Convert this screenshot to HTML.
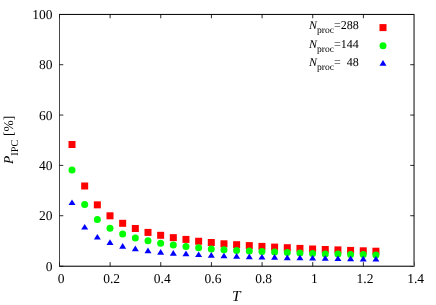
<!DOCTYPE html>
<html><head><meta charset="utf-8"><style>html,body{margin:0;padding:0;background:#fff;}svg{display:block;font-family:"Liberation Serif",serif;}</style></head><body>
<svg width="436" height="305" viewBox="0 0 436 305">
<rect width="436" height="305" fill="#fff"/>
<rect x="59" y="14" width="355.5" height="1" fill="#000" fill-opacity="0.94"/>
<rect x="59" y="13" width="355.5" height="1" fill="#000" fill-opacity="0.07"/>
<rect x="59" y="15" width="1" height="251.8" fill="#000" fill-opacity="0.72"/>
<rect x="413" y="15" width="1" height="251" fill="#000" fill-opacity="0.45"/>
<rect x="414" y="15" width="1" height="251" fill="#000" fill-opacity="0.53"/>
<rect x="60" y="265" width="353" height="1" fill="#000" fill-opacity="0.30"/>
<rect x="60" y="266" width="354.6" height="1" fill="#000" fill-opacity="0.75"/>
<rect x="59" y="262.1" width="1" height="4.9" fill="#000" fill-opacity="0.55"/>
<rect x="59" y="15" width="1" height="3.3" fill="#000" fill-opacity="0.55"/>
<rect x="60" y="266" width="3.3" height="1" fill="#000" fill-opacity="0.5"/>
<rect x="60" y="265" width="3.3" height="1" fill="#000" fill-opacity="0.2"/>
<rect x="414" y="262.1" width="1" height="3.9" fill="#000" fill-opacity="0.35"/>
<rect x="410.2" y="266" width="2.8" height="1" fill="#000" fill-opacity="0.4"/>
<path d="M110.11,266.3V262.1M110.11,14.5V18.25M160.76,266.3V262.1M160.76,14.5V18.25M211.42,266.3V262.1M211.42,14.5V18.25M262.08,266.3V262.1M262.08,14.5V18.25M312.74,266.3V262.1M312.74,14.5V18.25M363.39,266.3V262.1M363.39,14.5V18.25M59.5,215.72H63.3M414.1,215.72H410.2M59.5,165.39H63.3M414.1,165.39H410.2M59.5,115.06H63.3M414.1,115.06H410.2M59.5,64.73H63.3M414.1,64.73H410.2" fill="none" stroke="#000" stroke-width="0.84"/>
<rect x="68.51" y="141.00" width="7.0" height="7.0" fill="#f00"/>
<rect x="81.18" y="182.50" width="7.0" height="7.0" fill="#f00"/>
<rect x="93.84" y="201.35" width="7.0" height="7.0" fill="#f00"/>
<rect x="106.50" y="212.30" width="7.0" height="7.0" fill="#f00"/>
<rect x="119.16" y="219.80" width="7.0" height="7.0" fill="#f00"/>
<rect x="131.83" y="225.00" width="7.0" height="7.0" fill="#f00"/>
<rect x="144.49" y="228.90" width="7.0" height="7.0" fill="#f00"/>
<rect x="157.15" y="231.80" width="7.0" height="7.0" fill="#f00"/>
<rect x="169.81" y="234.15" width="7.0" height="7.0" fill="#f00"/>
<rect x="182.47" y="235.90" width="7.0" height="7.0" fill="#f00"/>
<rect x="195.14" y="237.75" width="7.0" height="7.0" fill="#f00"/>
<rect x="207.80" y="239.00" width="7.0" height="7.0" fill="#f00"/>
<rect x="220.46" y="240.30" width="7.0" height="7.0" fill="#f00"/>
<rect x="233.12" y="241.20" width="7.0" height="7.0" fill="#f00"/>
<rect x="245.79" y="242.10" width="7.0" height="7.0" fill="#f00"/>
<rect x="258.45" y="242.90" width="7.0" height="7.0" fill="#f00"/>
<rect x="271.11" y="243.60" width="7.0" height="7.0" fill="#f00"/>
<rect x="283.78" y="244.20" width="7.0" height="7.0" fill="#f00"/>
<rect x="296.44" y="244.90" width="7.0" height="7.0" fill="#f00"/>
<rect x="309.10" y="245.50" width="7.0" height="7.0" fill="#f00"/>
<rect x="321.76" y="246.00" width="7.0" height="7.0" fill="#f00"/>
<rect x="334.43" y="246.40" width="7.0" height="7.0" fill="#f00"/>
<rect x="347.09" y="246.90" width="7.0" height="7.0" fill="#f00"/>
<rect x="359.75" y="247.30" width="7.0" height="7.0" fill="#f00"/>
<rect x="372.41" y="247.70" width="7.0" height="7.0" fill="#f00"/>
<circle cx="72.01" cy="170.10" r="3.5" fill="#0f0"/>
<circle cx="84.68" cy="204.50" r="3.5" fill="#0f0"/>
<circle cx="97.34" cy="219.50" r="3.5" fill="#0f0"/>
<circle cx="110.00" cy="228.30" r="3.5" fill="#0f0"/>
<circle cx="122.66" cy="234.00" r="3.5" fill="#0f0"/>
<circle cx="135.33" cy="237.90" r="3.5" fill="#0f0"/>
<circle cx="147.99" cy="240.80" r="3.5" fill="#0f0"/>
<circle cx="160.65" cy="243.20" r="3.5" fill="#0f0"/>
<circle cx="173.31" cy="244.95" r="3.5" fill="#0f0"/>
<circle cx="185.97" cy="246.60" r="3.5" fill="#0f0"/>
<circle cx="198.64" cy="247.80" r="3.5" fill="#0f0"/>
<circle cx="211.30" cy="248.90" r="3.5" fill="#0f0"/>
<circle cx="223.96" cy="249.70" r="3.5" fill="#0f0"/>
<circle cx="236.62" cy="250.40" r="3.5" fill="#0f0"/>
<circle cx="249.29" cy="251.10" r="3.5" fill="#0f0"/>
<circle cx="261.95" cy="251.50" r="3.5" fill="#0f0"/>
<circle cx="274.61" cy="252.10" r="3.5" fill="#0f0"/>
<circle cx="287.28" cy="252.60" r="3.5" fill="#0f0"/>
<circle cx="299.94" cy="253.00" r="3.5" fill="#0f0"/>
<circle cx="312.60" cy="253.40" r="3.5" fill="#0f0"/>
<circle cx="325.26" cy="253.90" r="3.5" fill="#0f0"/>
<circle cx="337.93" cy="254.10" r="3.5" fill="#0f0"/>
<circle cx="350.59" cy="254.45" r="3.5" fill="#0f0"/>
<circle cx="363.25" cy="254.60" r="3.5" fill="#0f0"/>
<circle cx="375.91" cy="255.00" r="3.5" fill="#0f0"/>
<path d="M72.01,199.38L68.51,205.05H75.51Z" fill="#00f"/>
<path d="M84.68,223.88L81.18,229.55H88.18Z" fill="#00f"/>
<path d="M97.34,233.88L93.84,239.55H100.84Z" fill="#00f"/>
<path d="M110.00,239.28L106.50,244.95H113.50Z" fill="#00f"/>
<path d="M122.66,242.98L119.16,248.65H126.16Z" fill="#00f"/>
<path d="M135.33,245.58L131.83,251.25H138.83Z" fill="#00f"/>
<path d="M147.99,247.58L144.49,253.25H151.49Z" fill="#00f"/>
<path d="M160.65,249.08L157.15,254.75H164.15Z" fill="#00f"/>
<path d="M173.31,249.98L169.81,255.65H176.81Z" fill="#00f"/>
<path d="M185.97,250.58L182.47,256.25H189.47Z" fill="#00f"/>
<path d="M198.64,251.38L195.14,257.05H202.14Z" fill="#00f"/>
<path d="M211.30,252.08L207.80,257.75H214.80Z" fill="#00f"/>
<path d="M223.96,252.63L220.46,258.30H227.46Z" fill="#00f"/>
<path d="M236.62,252.98L233.12,258.65H240.12Z" fill="#00f"/>
<path d="M249.29,253.53L245.79,259.20H252.79Z" fill="#00f"/>
<path d="M261.95,253.93L258.45,259.60H265.45Z" fill="#00f"/>
<path d="M274.61,254.08L271.11,259.75H278.11Z" fill="#00f"/>
<path d="M287.28,254.48L283.78,260.15H290.78Z" fill="#00f"/>
<path d="M299.94,254.68L296.44,260.35H303.44Z" fill="#00f"/>
<path d="M312.60,254.93L309.10,260.60H316.10Z" fill="#00f"/>
<path d="M325.26,255.18L321.76,260.85H328.76Z" fill="#00f"/>
<path d="M337.93,255.38L334.43,261.05H341.43Z" fill="#00f"/>
<path d="M350.59,255.58L347.09,261.25H354.09Z" fill="#00f"/>
<path d="M363.25,255.73L359.75,261.40H366.75Z" fill="#00f"/>
<path d="M375.91,255.93L372.41,261.60H379.41Z" fill="#00f"/>
<rect x="379.5" y="24.1" width="7.0" height="7.0" fill="#f00"/>
<circle cx="383" cy="45.7" r="3.5" fill="#0f0"/>
<path d="M383.00,60.08L379.50,65.75H386.50Z" fill="#00f"/>
<defs><filter id="g" x="0" y="0" width="436" height="305" filterUnits="userSpaceOnUse" color-interpolation-filters="sRGB"><feColorMatrix type="saturate" values="0"/></filter></defs><g filter="url(#g)" text-rendering="geometricPrecision">
<text x="52.6" y="270.70" font-size="13.5" text-anchor="end">0</text>
<text x="52.6" y="220.34" font-size="13.5" text-anchor="end">20</text>
<text x="52.6" y="169.98" font-size="13.5" text-anchor="end">40</text>
<text x="52.6" y="119.62" font-size="13.5" text-anchor="end">60</text>
<text x="52.6" y="69.26" font-size="13.5" text-anchor="end">80</text>
<text x="52.6" y="18.90" font-size="13.5" text-anchor="end">100</text>
<text x="61.00" y="283" font-size="13.5" text-anchor="middle">0</text>
<text x="111.66" y="283" font-size="13.5" text-anchor="middle">0.2</text>
<text x="162.31" y="283" font-size="13.5" text-anchor="middle">0.4</text>
<text x="212.97" y="283" font-size="13.5" text-anchor="middle">0.6</text>
<text x="263.63" y="283" font-size="13.5" text-anchor="middle">0.8</text>
<text x="314.29" y="283" font-size="13.5" text-anchor="middle">1</text>
<text x="364.94" y="283" font-size="13.5" text-anchor="middle">1.2</text>
<text x="415.60" y="283" font-size="13.5" text-anchor="middle">1.4</text>
<text x="232.1" y="301.3" font-size="15.4" font-style="italic">T</text>
<g transform="translate(13.2,163.9) rotate(-90)"><text x="0" y="0" font-size="13.5"><tspan font-style="italic">P</tspan><tspan font-size="10.4" dy="4.6">IPC</tspan><tspan dy="-4.6"> [%]</tspan></text></g>
<text x="358.8" y="29.4" font-size="12.0" text-anchor="end" xml:space="preserve"><tspan font-style="italic">N</tspan><tspan font-size="9.6" dy="3.9">proc</tspan><tspan dy="-3.9">=288</tspan></text>
<text x="358.8" y="47.8" font-size="12.0" text-anchor="end" xml:space="preserve"><tspan font-style="italic">N</tspan><tspan font-size="9.6" dy="3.9">proc</tspan><tspan dy="-3.9">=144</tspan></text>
<text x="358.8" y="66.3" font-size="12.0" text-anchor="end" xml:space="preserve"><tspan font-style="italic">N</tspan><tspan font-size="9.6" dy="3.9">proc</tspan><tspan dy="-3.9">=  48</tspan></text>
</g>
</svg></body></html>
